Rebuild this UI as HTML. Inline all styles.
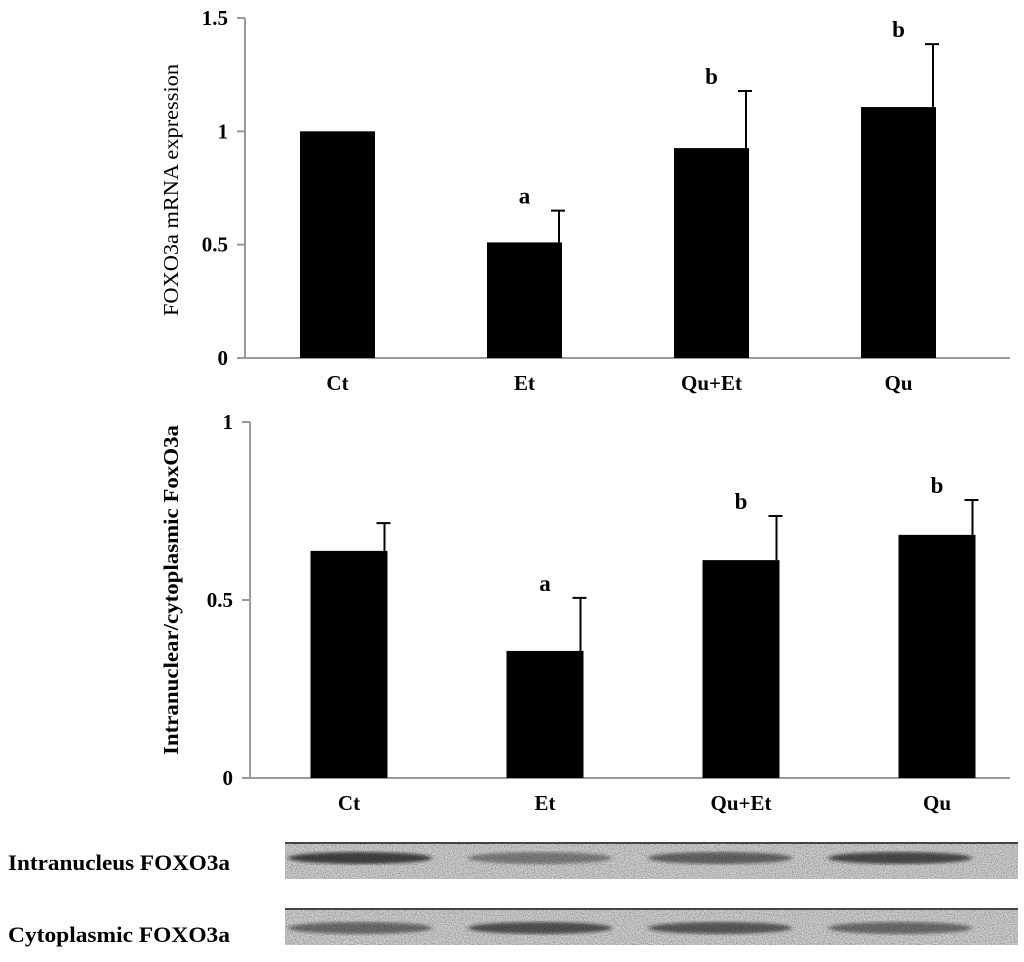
<!DOCTYPE html>
<html><head><meta charset="utf-8">
<style>
html,body{margin:0;padding:0;background:#fff;}
svg{display:block;font-family:"Liberation Serif",serif;}
</style></head>
<body>
<svg id="fig" width="1024" height="962" viewBox="0 0 1024 962">
<defs>
<filter id="noise" x="0" y="0" width="100%" height="100%">
<feTurbulence type="fractalNoise" baseFrequency="0.9" numOctaves="2" seed="3"/>
<feColorMatrix type="matrix" values="0 0 0 0 0  0 0 0 0 0  0 0 0 0 0  0 0 0 -1.8 1.1"/>
</filter>
<filter id="blur"><feGaussianBlur stdDeviation="2.5 1.5"/></filter>
</defs>
<g id="top"></g>
<g id="bot"></g>
<g id="blots"></g>
</svg>
<script>
const categories = ["Ct","Et","Qu+Et","Qu"];
const mrnaValues = [1.0,0.51,0.926,1.107];
const mrnaErrors = [0,0.14,0.252,0.278];
const mrnaLetters = ["","a","b","b"];
const mrnaTicks = [0,0.5,1,1.5];
const ratioValues = [0.638,0.357,0.612,0.683];
const ratioErrors = [0.078,0.149,0.124,0.098];
const ratioLetters = ["","a","b","b"];
const ratioTicks = [0,0.5,1];
const blotNames = ["Intranucleus FOXO3a","Cytoplasmic FOXO3a"];
const blotIntensity = [[0.8,0.45,0.6,0.75],[0.55,0.7,0.65,0.55]];

const NS="http://www.w3.org/2000/svg";
function mk(tag,attrs,parent,text){const e=document.createElementNS(NS,tag);for(const k in attrs)e.setAttribute(k,attrs[k]);if(text!==undefined)e.textContent=text;parent.appendChild(e);return e;}

function chart(g,cfg){
  const {x0,x1,y0,y1,max,ticks,values,errors,letters,spacing,first,bw,title,tx,ty,titleWeight,catY}=cfg;
  const yS=v=>y0-(v/max)*(y0-y1);
  const xC=i=>first+i*spacing;
  const ax=mk('line',{x1:x0,y1:y1,x2:x0,y2:y0,stroke:'#999','stroke-width':2},g);
  
  const xa=mk('line',{x1:x0-8,y1:y0,x2:x1,y2:y0,stroke:'#999','stroke-width':2},g);
  
  ticks.forEach(t=>{
    mk('line',{x1:x0-8,y1:yS(t),x2:x0,y2:yS(t),stroke:'#999','stroke-width':2},g);
    const l=mk('text',{x:x0-17,y:yS(t)+7,'text-anchor':'end','font-size':21,'font-weight':'bold'},g,String(t));
    
  });
  values.forEach((v,i)=>{
    const cx=xC(i);
    const b=mk('rect',{x:cx-bw/2,y:yS(v),width:bw,height:y0-yS(v),fill:'#000'},g);
    
    
    if(errors[i]>0){
      const e=mk('path',{d:`M${cx+bw/2-3},${yS(v)} V${yS(v+errors[i])} M${cx+bw/2-3-8},${yS(v+errors[i])} H${cx+bw/2-3+6}`,stroke:'#000','stroke-width':2,fill:'none'},g);
      
    }
    if(letters[i]){
      const lt=mk('text',{x:cx,y:yS(v+errors[i])-7,'text-anchor':'middle','font-size':23,'font-weight':'bold'},g,letters[i]);
      
    }
    const c=mk('text',{x:cx,y:catY,'text-anchor':'middle','font-size':21,'font-weight':'bold'},g,categories[i]);
    
  });
  const t=mk('text',{x:tx,y:ty,'text-anchor':'middle','font-size':cfg.fs,'font-weight':titleWeight,transform:`rotate(-90 ${tx} ${ty})`,textLength:cfg.tl,lengthAdjust:'spacingAndGlyphs'},g,title);
  
}

chart(document.getElementById('top'),{x0:245,x1:1010,y0:358,y1:18,max:1.5,ticks:mrnaTicks,values:mrnaValues,errors:mrnaErrors,letters:mrnaLetters,spacing:187,first:337.5,bw:75,title:"FOXO3a mRNA expression",tx:178,ty:190,titleWeight:'normal',catY:390,tl:252,fs:21});
chart(document.getElementById('bot'),{x0:250,x1:1010,y0:778,y1:422,max:1,ticks:ratioTicks,values:ratioValues,errors:ratioErrors,letters:ratioLetters,spacing:196,first:349,bw:77,title:"Intranuclear/cytoplasmic FoxO3a",tx:178,ty:590,titleWeight:'bold',catY:810,tl:330,fs:21});

const bg=document.getElementById('blots');
const rows=[842,908];
blotNames.forEach((n,r)=>{
  const y=rows[r];
  const lab=mk('text',{x:8,y:y+[28,34][r],'font-size':22,'font-weight':'bold',textLength:222,lengthAdjust:'spacingAndGlyphs'},bg,n);
  
  const gr=mk('g',{},bg);
  
  mk('rect',{x:285,y:y,width:733,height:37,fill:'#d0d0d0'},gr);
  blotIntensity[r].forEach((v,i)=>{
    const cx=[360,540,720,900][i];
    const band=mk('ellipse',{cx:cx,cy:y+[16,20][r],rx:72,ry:6,fill:'#222',opacity:v,filter:'url(#blur)'},gr);
    
  });
  mk('rect',{x:285,y:y,width:733,height:37,fill:'#000',opacity:0.45,filter:'url(#noise)'},gr);
  mk('line',{x1:285,y1:y+1,x2:1018,y2:y+1,stroke:'#444','stroke-width':2},gr);
});
</script>
</body></html>
